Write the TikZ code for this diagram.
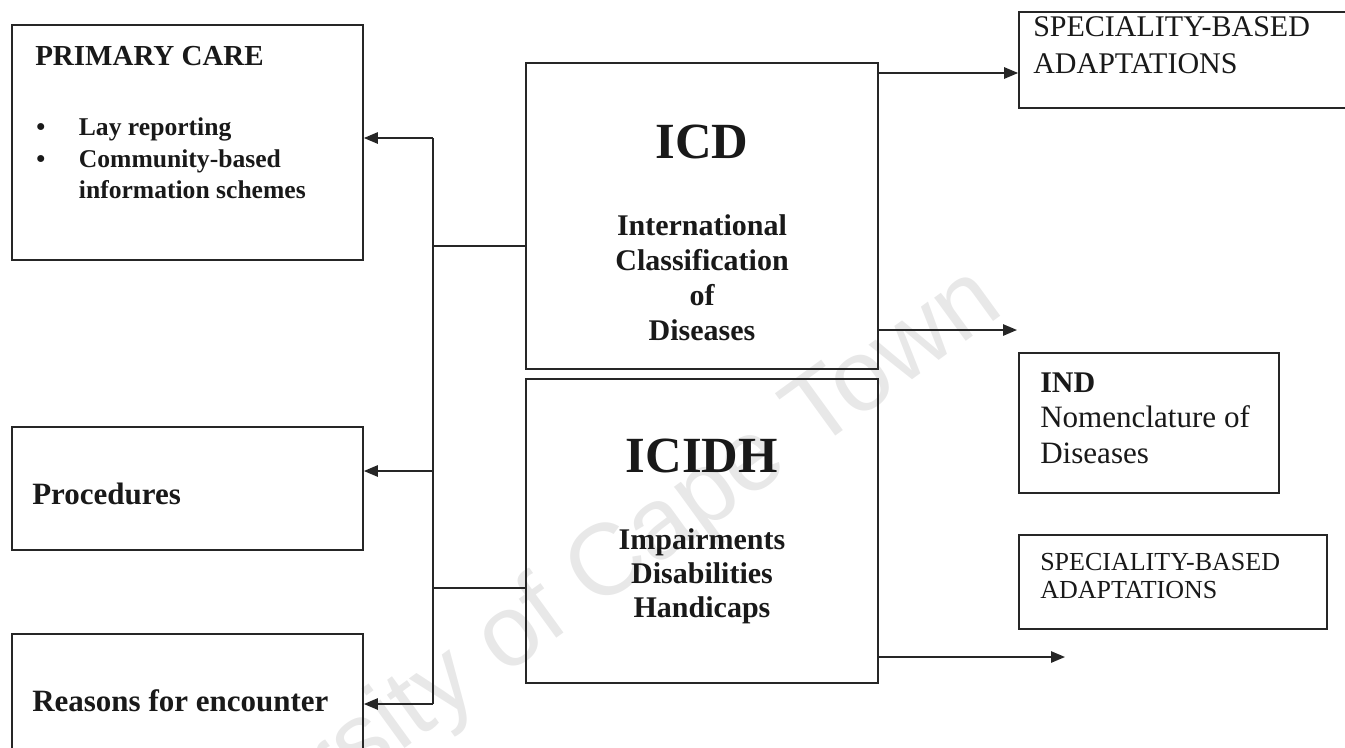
\documentclass[tikz,border=0pt]{standalone}
\usepackage{fontspec}
\setmainfont{Liberation Serif}
\newfontfamily\wmfont{Liberation Sans}
\usetikzlibrary{arrows.meta}
\newcommand\myfs[1]{\fontsize{#1}{#1}\selectfont}
\begin{document}
\begin{tikzpicture}[x=0.75pt,y=-0.75pt,
  box/.style={draw=black!85, line width=1.3pt, rectangle, inner sep=0pt},
  conn/.style={draw=black!85, line width=1.3pt},
  arr/.style={conn, -{Triangle[length=10.5pt,width=8.5pt]}},
  txt/.style={inner sep=0pt, anchor=base, text=black!90},
  ltxt/.style={inner sep=0pt, anchor=base west, text=black!90},
  big/.style={font=\myfs{38pt}\bfseries},
  mid/.style={font=\myfs{22.5pt}\bfseries},
  wm/.style={inner sep=0pt, anchor=base east, rotate=36, text=black!9, font=\wmfont\myfs{76pt}}]
\path[use as bounding box] (0,0) rectangle (1345,747);
\clip (0,0) rectangle (1345,747);

% watermark
\node[wm] (watermark) at (1006,312) {University of Cape Town};

% boxes
\node[box, minimum width=263.25pt, minimum height=176.25pt] (pc) at (187.5,142.5) {};
\node[box, minimum width=263.25pt, minimum height=92.25pt] (proc) at (187.5,488.5) {};
\node[box, minimum width=263.25pt, minimum height=109.5pt] (reas) at (187.5,707) {};
\node[box, minimum width=264pt, minimum height=229.5pt] (icd) at (702,216) {};
\node[box, minimum width=264pt, minimum height=228pt] (icidh) at (702,531) {};
\node[box, minimum width=263.25pt, minimum height=72pt] (spec1) at (1194.5,60) {};
\node[box, minimum width=195pt, minimum height=105pt] (ind) at (1149,423) {};
\node[box, minimum width=231pt, minimum height=70.5pt] (spec2) at (1173,582) {};

% texts: primary care
\node[ltxt, font=\myfs{21.75pt}\bfseries] (pc-h) at (35,65) {PRIMARY CARE};
\node[ltxt, font=\myfs{19.2pt}\bfseries] (pc-1) at (36,135) {\makebox[32pt][l]{•}Lay reporting};
\node[ltxt, font=\myfs{19.2pt}\bfseries] (pc-2) at (36,167) {\makebox[32pt][l]{•}Community-based};
\node[ltxt, font=\myfs{19.2pt}\bfseries] (pc-3) at (36,198) {\hspace*{32pt}information schemes};

\node[ltxt, font=\myfs{23.25pt}\bfseries] (proc-t) at (32,504) {Procedures};
\node[ltxt, font=\myfs{23.25pt}\bfseries] (reas-t) at (32,711) {Reasons for encounter};

% ICD
\node[txt, big] (icd-h) at (702,158) {ICD};
\node[txt, mid] (icd-1) at (702,235) {International};
\node[txt, mid] (icd-2) at (702,270) {Classification};
\node[txt, mid] (icd-3) at (702,305) {of};
\node[txt, mid] (icd-4) at (702,340) {Diseases};

% ICIDH
\node[txt, big] (icidh-h) at (702,472) {ICIDH};
\node[txt, mid] (icidh-1) at (702,549) {Impairments};
\node[txt, mid] (icidh-2) at (702,583) {Disabilities};
\node[txt, mid] (icidh-3) at (702,617) {Handicaps};

% right boxes
\node[ltxt, font=\myfs{22.5pt}] (spec1-1) at (1033,36) {SPECIALITY-BASED};
\node[ltxt, font=\myfs{22.5pt}] (spec1-2) at (1033,73) {ADAPTATIONS};
\node[ltxt, font=\myfs{22.5pt}\bfseries] (ind-h) at (1040,392) {IND};
\node[ltxt, font=\myfs{23.3pt}] (ind-1) at (1040,427) {Nomenclature of};
\node[ltxt, font=\myfs{23.3pt}] (ind-2) at (1040,463) {Diseases};
\node[ltxt, font=\myfs{19.5pt}] (spec2-1) at (1040,570) {SPECIALITY-BASED};
\node[ltxt, font=\myfs{19.5pt}] (spec2-2) at (1040,598) {ADAPTATIONS};

% trunk coordinates
\coordinate (t1) at (433,138);
\coordinate (t2) at (433,246);
\coordinate (t3) at (433,471);
\coordinate (t4) at (433,588);
\coordinate (t5) at (433,704);
\coordinate (e1) at (878,73);
\coordinate (e2) at (878,330);
\coordinate (f2) at (1017,330);
\coordinate (e3) at (878,657);
\coordinate (f3) at (1065,657);

\draw[conn] (t1) -- (t5);
\draw[arr] (t1) -- (pc.east |- t1);
\draw[conn] (t2) -- (icd.west |- t2);
\draw[arr] (t3) -- (proc.east |- t3);
\draw[conn] (t4) -- (icidh.west |- t4);
\draw[arr] (t5) -- (reas.east |- t5);
\draw[arr] (e1) -- (spec1.west |- e1);
\draw[arr] (e2) -- (f2);
\draw[arr] (e3) -- (f3);
\end{tikzpicture}
\end{document}
